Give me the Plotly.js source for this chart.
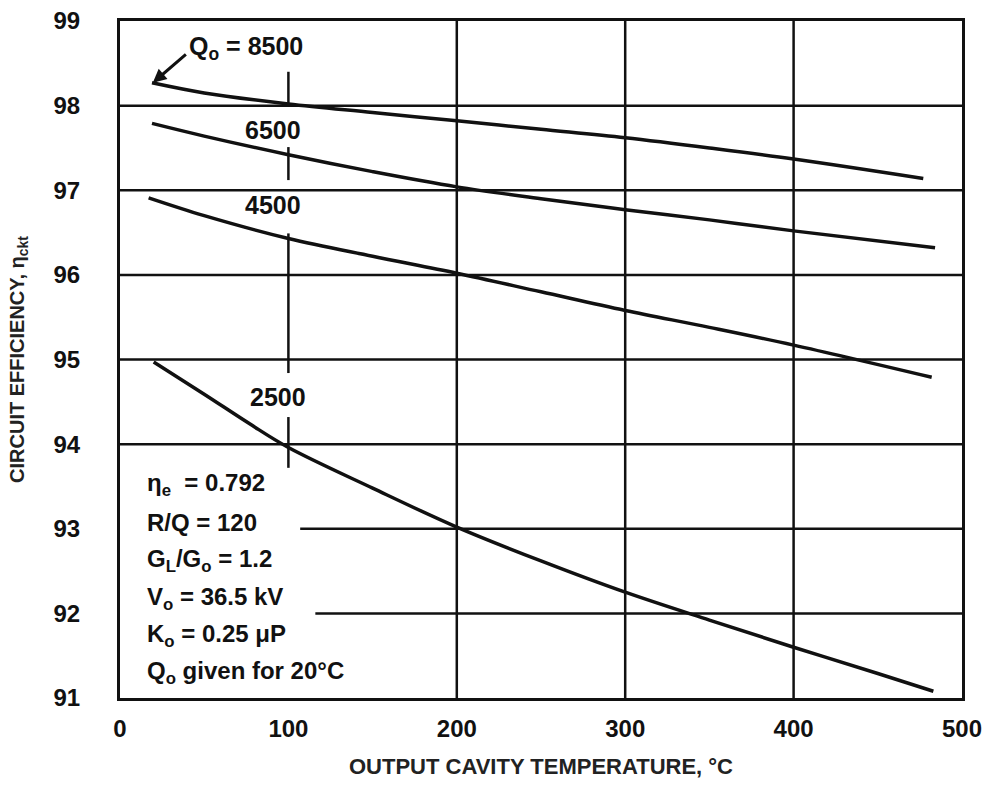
<!DOCTYPE html>
<html>
<head>
<meta charset="utf-8">
<script src="https://cdn.plot.ly/plotly-3.0.1.min.js"></script>
<style>html,body{margin:0;padding:0;background:#fff;}#chart{width:996px;height:788px;}</style>
</head>
<body>
<div id="chart"></div>
<script>
// Temperature (°C) and circuit efficiency (%) for each Qo curve
const x8500 = [19, 50, 100, 150, 200, 250, 300, 350, 400, 477];
const y8500 = [98.27, 98.15, 98.02, 97.92, 97.82, 97.72, 97.62, 97.50, 97.37, 97.14];
const x6500 = [19, 50, 100, 150, 200, 250, 300, 350, 400, 484];
const y6500 = [97.79, 97.64, 97.42, 97.22, 97.04, 96.90, 96.77, 96.65, 96.52, 96.32];
const x4500 = [17, 50, 100, 150, 200, 250, 300, 350, 400, 482];
const y4500 = [96.91, 96.70, 96.43, 96.22, 96.02, 95.80, 95.58, 95.38, 95.17, 94.79];
const x2500 = [20, 50, 77, 100, 150, 200, 250, 300, 350, 400, 450, 483];
const y2500 = [94.97, 94.59, 94.24, 93.96, 93.48, 93.02, 92.62, 92.25, 91.92, 91.60, 91.29, 91.08];

const xTicks = [0, 100, 200, 300, 400, 500];
const yTicks = [91, 92, 93, 94, 95, 96, 97, 98, 99];
const curveLabels = ["Q<sub>o</sub> = 8500", "6500", "4500", "2500"];
const paramLines = [
  "η<sub>e</sub>  = 0.792",
  "R/Q = 120",
  "G<sub>L</sub>/G<sub>o</sub> = 1.2",
  "V<sub>o</sub> = 36.5 kV",
  "K<sub>o</sub> = 0.25 μP",
  "Q<sub>o</sub> given for 20°C"
];

const FONT = "Liberation Sans, Arial, Helvetica, sans-serif";
const lineStyle = {color: "#111", width: 3.5, shape: "spline"};

const traces = [
  {x: x8500, y: y8500, mode: "lines", line: lineStyle, name: "8500"},
  {x: x6500, y: y6500, mode: "lines", line: lineStyle, name: "6500"},
  {x: x4500, y: y4500, mode: "lines", line: lineStyle, name: "4500"},
  {x: x2500, y: y2500, mode: "lines", line: lineStyle, name: "2500"}
];

const g = {color: "#111", width: 2.5};
const shapes = [];
[200, 300, 400].forEach(v => shapes.push({type: "line", xref: "x", yref: "y", x0: v, x1: v, y0: 91, y1: 99, line: g, layer: "below"}));
[[98.40, 98.02], [97.51, 97.12], [96.49, 94.84], [94.32, 93.72]].forEach(s =>
  shapes.push({type: "line", xref: "x", yref: "y", x0: 100, x1: 100, y0: s[0], y1: s[1], line: g, layer: "below"}));
[94, 95, 96, 97, 98].forEach(v => shapes.push({type: "line", xref: "x", yref: "y", x0: 0, x1: 500, y0: v, y1: v, line: g, layer: "below"}));
shapes.push({type: "line", xref: "x", yref: "y", x0: 107, x1: 500, y0: 93, y1: 93, line: g, layer: "below"});
shapes.push({type: "line", xref: "x", yref: "y", x0: 116, x1: 500, y0: 92, y1: 92, line: g, layer: "below"});

const lf = {family: FONT, size: 25, color: "#111", weight: "bold"};
const bf = {family: FONT, size: 24, color: "#111", weight: "bold"};
const annotations = [
  {x: 40, y: 98.68, xref: "x", yref: "y", text: curveLabels[0], showarrow: false, xanchor: "left", yanchor: "middle", font: lf},
  {x: 19.5, y: 98.27, ax: 40, ay: 98.62, axref: "x", ayref: "y", xref: "x", yref: "y", text: "", showarrow: true, arrowhead: 2, arrowsize: 0.9, arrowwidth: 3, arrowcolor: "#111"},
  {x: 91, y: 97.71, xref: "x", yref: "y", text: curveLabels[1], showarrow: false, font: lf},
  {x: 91, y: 96.83, xref: "x", yref: "y", text: curveLabels[2], showarrow: false, font: lf},
  {x: 94, y: 94.56, xref: "x", yref: "y", text: curveLabels[3], showarrow: false, font: lf}
];
const paramY = [93.52, 93.07, 92.63, 92.18, 91.74, 91.30];
paramLines.forEach((t, i) => annotations.push({x: 15, y: paramY[i], xref: "x", yref: "y", text: t, showarrow: false, xanchor: "left", yanchor: "middle", font: bf}));

const layout = {
  width: 996, height: 788,
  margin: {l: 120, r: 34, t: 21, b: 90},
  paper_bgcolor: "#fff", plot_bgcolor: "#fff",
  showlegend: false,
  font: {family: FONT, color: "#111"},
  xaxis: {
    range: [0, 500], tickvals: xTicks, ticktext: xTicks.map(String),
    showgrid: false, zeroline: false, showline: true, mirror: true, linecolor: "#111", linewidth: 3,
    ticks: "", ticklabelstandoff: 7,
    tickfont: {family: FONT, size: 24, color: "#111", weight: "bold"},
    title: {text: "OUTPUT CAVITY TEMPERATURE, °C", standoff: 18, font: {family: FONT, size: 22, color: "#222", weight: "bold"}}
  },
  yaxis: {
    range: [91, 99], tickvals: yTicks, ticktext: yTicks.map(String),
    showgrid: false, zeroline: false, showline: true, mirror: true, linecolor: "#111", linewidth: 3,
    ticks: "", ticklabelstandoff: 32,
    tickfont: {family: FONT, size: 24, color: "#111", weight: "bold"},
    title: {text: "CIRCUIT EFFICIENCY, η<sub>ckt</sub>", standoff: 24, font: {family: FONT, size: 20, color: "#222", weight: "bold"}}
  },
  shapes: shapes,
  annotations: annotations
};

Plotly.newPlot("chart", traces, layout, {displayModeBar: false, staticPlot: true});
</script>
</body>
</html>
